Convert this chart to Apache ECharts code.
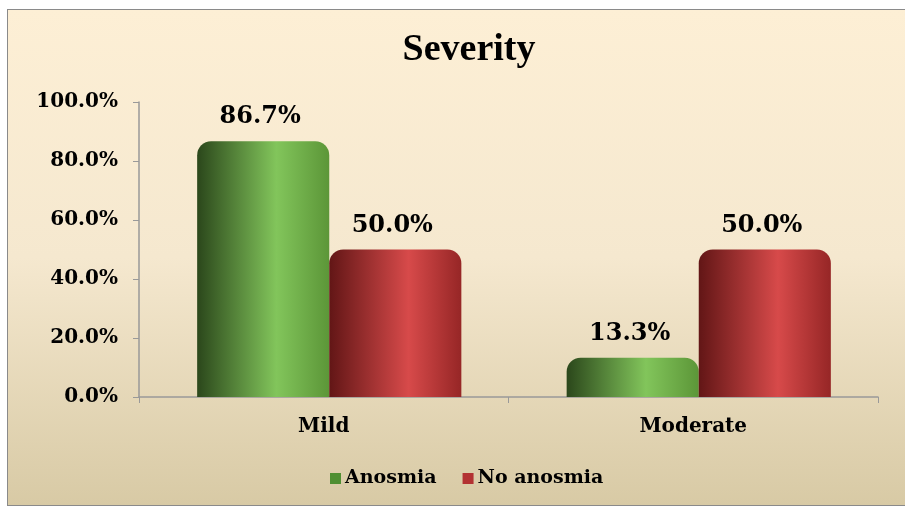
<!DOCTYPE html>
<html><head><meta charset="utf-8">
<script src="https://cdn.jsdelivr.net/npm/echarts@6/dist/echarts.min.js"></script>
<style>
html,body{margin:0;padding:0;background:#fff;}
#frame{position:absolute;left:7px;top:9px;width:897px;height:495px;border:1px solid #8a8a8a;border-right:none;
background:linear-gradient(to bottom,#fdefd5 0%,#f5e8cf 50%,#d8caa5 100%);}
#c{position:absolute;left:0;top:0;width:905px;height:507px;}
</style></head>
<body>
<div id="frame"></div>
<div id="c"></div>
<script>
const categories = ['Mild', 'Moderate'];
const anosmia = [86.7, 13.3];
const noAnosmia = [50.0, 50.0];
const seriesNames = ['Anosmia', 'No anosmia'];
const yTicks = {min: 0, max: 100, interval: 20};

const chart = echarts.init(document.getElementById('c'), null, {renderer: 'canvas'});
const serif = '"Liberation Serif","Times New Roman",serif';
const wide = '"DejaVu Serif",serif';
function grad(dark, light, mid) {
  return new echarts.graphic.LinearGradient(0, 0, 1, 0, [
    {offset: 0, color: dark},
    {offset: 0.6, color: light},
    {offset: 1, color: mid}
  ]);
}
const green = grad('#2b471b', '#82c55b', '#5c9638');
const red = grad('#621616', '#d74a4a', '#962626');
const labelCfg = {show: true, position: 'top', distance: 12, fontFamily: wide, fontWeight: 'bold', fontSize: 24, color: '#000',
  offset: [-3, 0], formatter: p => p.value.toFixed(1) + '%'};
const axisText = {fontFamily: wide, fontWeight: 'bold', fontSize: 20, color: '#000'};
chart.setOption({
  backgroundColor: 'transparent',
  title: {text: 'Severity', left: 464, textAlign: 'center', top: 26, textStyle: {fontFamily: serif, fontWeight: 'bold', fontSize: 38, color: '#000'}},
  legend: {bottom: 19, left: 330, padding: 0, itemWidth: 11, itemHeight: 11, itemGap: 26, icon: 'rect',
    textStyle: Object.assign({}, axisText, {fontSize: 19, padding: [0, 0, 0, -1]}),
    data: [{name: seriesNames[0], itemStyle: {color: '#4f8f32'}}, {name: seriesNames[1], itemStyle: {color: '#b33232'}}]},
  grid: [
    {left: 139, right: 27, top: 102, bottom: 110, containLabel: false},
    {left: 144.5, right: 21.5, top: 102, bottom: 110, containLabel: false}
  ],
  xAxis: [
    {type: 'category', data: categories, gridIndex: 0,
      axisLine: {lineStyle: {color: '#999', width: 1.5}},
      axisTick: {show: true, length: 6, inside: false, lineStyle: {color: '#999'}},
      axisLabel: Object.assign({}, axisText, {fontSize: 20, margin: 20})},
    {type: 'category', data: categories, gridIndex: 1, show: false}
  ],
  yAxis: [
    {type: 'value', gridIndex: 0, min: yTicks.min, max: yTicks.max, interval: yTicks.interval,
      axisLine: {show: true, lineStyle: {color: '#999', width: 1.5}},
      axisTick: {show: true, length: 6, lineStyle: {color: '#999'}},
      splitLine: {show: false},
      axisLabel: Object.assign({}, axisText, {margin: 21, formatter: v => v.toFixed(1) + '%'})},
    {type: 'value', gridIndex: 1, min: yTicks.min, max: yTicks.max, interval: yTicks.interval, show: false, splitLine: {show: false}}
  ],
  series: [
    {name: seriesNames[0], type: 'bar', xAxisIndex: 1, yAxisIndex: 1, data: anosmia, barGap: '0%', barCategoryGap: '28.5%',
      itemStyle: {color: green, borderRadius: [14, 14, 0, 0]}, label: labelCfg},
    {name: seriesNames[1], type: 'bar', xAxisIndex: 1, yAxisIndex: 1, data: noAnosmia,
      itemStyle: {color: red, borderRadius: [14, 14, 0, 0]}, label: labelCfg}
  ]
});
</script>
</body></html>
